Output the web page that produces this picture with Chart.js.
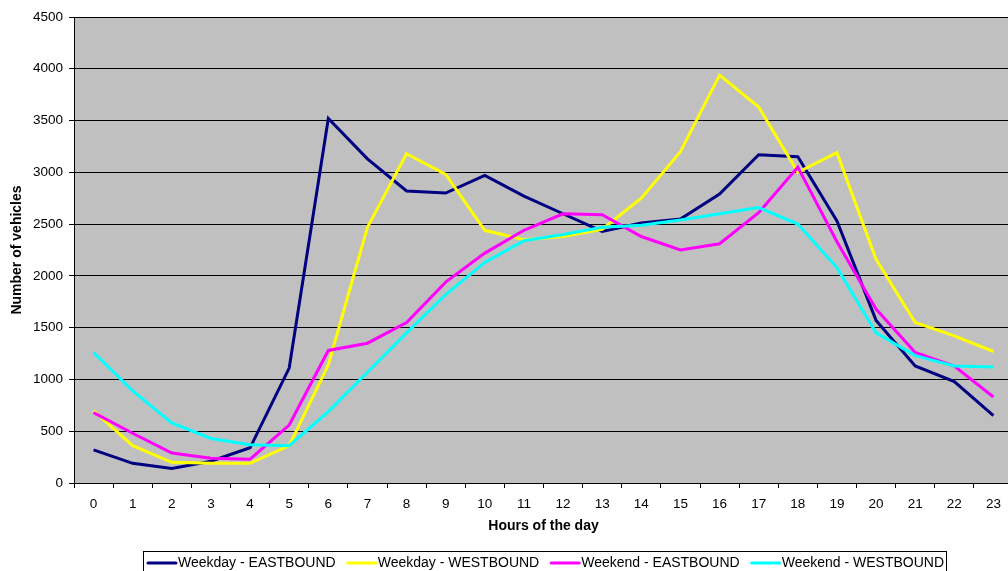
<!DOCTYPE html>
<html>
<head>
<meta charset="utf-8">
<script src="https://cdn.jsdelivr.net/npm/chart.js@4/dist/chart.umd.min.js"></script>
<style>
  html, body { margin: 0; padding: 0; background: #ffffff; overflow: hidden; width: 1008px; height: 571px; }
  #c { display: block; }
</style>
</head>
<body>
<canvas id="c" width="1014" height="571"></canvas>
<script>
const hours = ['0','1','2','3','4','5','6','7','8','9','10','11','12','13','14','15','16','17','18','19','20','21','22','23'];
const weekdayEast = [320,190,140,210,340,1110,3520,3130,2820,2800,2970,2770,2600,2430,2510,2550,2790,3170,3150,2530,1570,1130,980,650];
const weekdayWest = [700,360,200,190,190,360,1140,2470,3180,2980,2440,2350,2380,2450,2750,3200,3940,3630,3000,3190,2160,1550,1420,1270];
const weekendEast = [680,480,290,240,230,560,1280,1350,1550,1940,2220,2440,2600,2590,2380,2250,2310,2610,3050,2330,1680,1260,1130,830];
const weekendWest = [1260,890,580,430,370,360,690,1070,1450,1820,2130,2340,2400,2470,2490,2540,2600,2660,2500,2080,1450,1230,1130,1120];
const seriesNames = ['Weekday - EASTBOUND','Weekday - WESTBOUND','Weekend - EASTBOUND','Weekend - WESTBOUND'];
const seriesColors = ['#000080','#FFFF00','#FF00FF','#00FFFF'];
const yTicks = { min: 0, max: 4500, step: 500 };

const FONT = "'Liberation Sans', Arial, sans-serif";

const plotBg = {
  id: 'plotBg',
  beforeDraw(chart) {
    const {ctx, chartArea: a} = chart;
    ctx.save();
    ctx.fillStyle = '#C0C0C0';
    ctx.fillRect(a.left, a.top, a.right - a.left, a.bottom - a.top);
    ctx.restore();
  }
};

const boxLegend = {
  id: 'boxLegend',
  afterDraw(chart) {
    const ctx = chart.ctx;
    ctx.save();
    ctx.font = '14px ' + FONT;
    const left = 143.5, top = 551.5, right = 946.5;
    ctx.strokeStyle = '#000000';
    ctx.lineWidth = 1;
    ctx.strokeRect(left, top, right - left, 40);
    let x = 147;
    const yMid = 563;
    chart.data.datasets.forEach((ds) => {
      ctx.strokeStyle = ds.borderColor;
      ctx.lineWidth = 3;
      ctx.lineCap = 'round';
      ctx.beginPath();
      ctx.moveTo(x + 1, yMid);
      ctx.lineTo(x + 29, yMid);
      ctx.stroke();
      x += 31;
      ctx.fillStyle = '#000000';
      ctx.textBaseline = 'middle';
      ctx.textAlign = 'left';
      ctx.fillText(ds.label, x, yMid);
      x += ctx.measureText(ds.label).width + 11;
    });
    ctx.restore();
  }
};

const datasets = [weekdayEast, weekdayWest, weekendEast, weekendWest].map((vals, i) => ({
  label: seriesNames[i],
  data: vals,
  borderColor: seriesColors[i],
  backgroundColor: seriesColors[i],
  borderWidth: 3,
  pointRadius: 0,
  pointHoverRadius: 0,
  tension: 0,
  fill: false,
  order: 3 - i
}));

new Chart(document.getElementById('c'), {
  type: 'line',
  data: { labels: hours, datasets },
  options: {
    responsive: false,
    animation: false,
    devicePixelRatio: 1,
    layout: { padding: { left: 0, top: 17, right: 1, bottom: 0 } },
    plugins: { legend: { display: false }, tooltip: { enabled: false } },
    scales: {
      x: {
        type: 'category',
        offset: true,
        afterFit(scale) { scale.height = 88; },
        grid: { display: true, offset: true, drawOnChartArea: false, drawTicks: true, tickLength: 5, color: '#000000', lineWidth: 1 },
        border: { display: true, color: '#000000', width: 1 },
        ticks: { color: '#000000', font: { family: FONT, size: 13.5 }, padding: 8, maxRotation: 0, autoSkip: false },
        title: { display: true, text: 'Hours of the day', color: '#000000', font: { family: FONT, size: 14, weight: 'bold' }, padding: { top: 0, bottom: 36 } }
      },
      y: {
        min: yTicks.min,
        max: yTicks.max,
        afterFit(scale) { scale.width = 74; },
        grid: { display: true, drawOnChartArea: true, drawTicks: true, tickLength: 5, color: '#000000', lineWidth: 1 },
        border: { display: true, color: '#000000', width: 1 },
        ticks: { stepSize: yTicks.step, color: '#000000', font: { family: FONT, size: 13.5 }, padding: 6, callback: (v) => String(v) },
        title: { display: true, text: 'Number of vehicles', color: '#000000', font: { family: FONT, size: 14, weight: 'bold' }, padding: { top: 9, bottom: 0 } }
      }
    }
  },
  plugins: [plotBg, boxLegend]
});
</script>
</body>
</html>
